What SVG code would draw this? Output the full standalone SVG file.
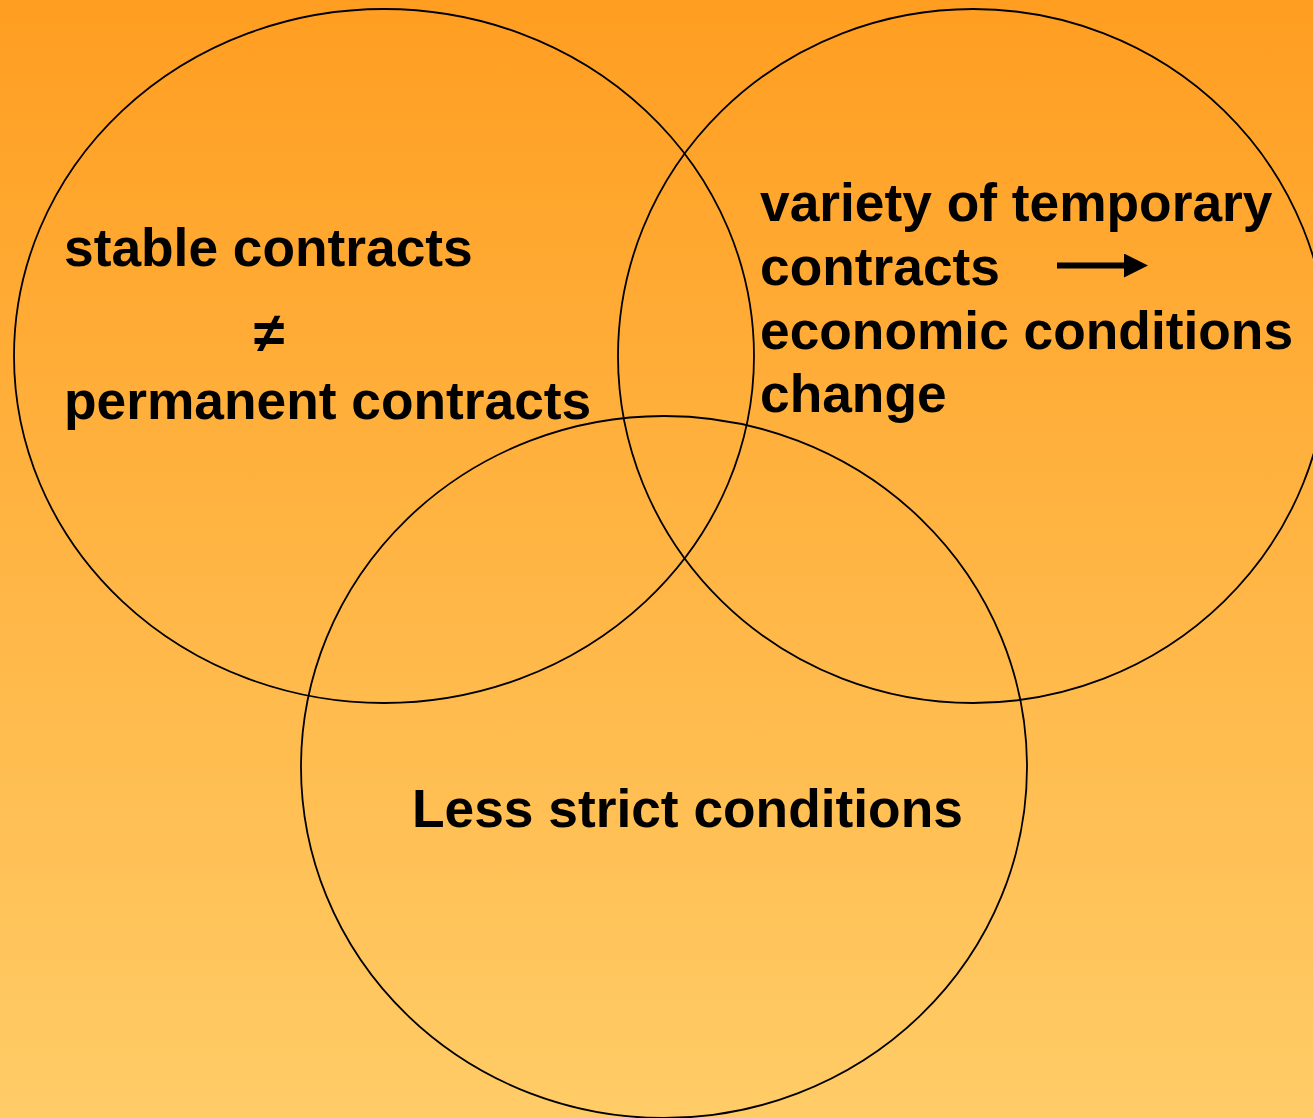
<svg xmlns="http://www.w3.org/2000/svg" width="1313" height="1118" viewBox="0 0 1313 1118">
<defs>
<linearGradient id="bg" x1="0" y1="0" x2="0" y2="1">
<stop offset="0" stop-color="#FF9E21"/>
<stop offset="1" stop-color="#FFCC67"/>
</linearGradient>
<marker id="ah" markerWidth="24" markerHeight="24" refX="0" refY="12" orient="auto" markerUnits="userSpaceOnUse">
<path d="M0,0 L24,12 L0,24 Z" fill="#000"/>
</marker>
</defs>
<style>
.c{fill:none;stroke:#000;stroke-width:1.8}
.t{font-family:"Liberation Sans",Arial,sans-serif;font-weight:bold;font-size:53.3px;fill:#000}
</style>
<rect width="1313" height="1118" fill="url(#bg)"/>
<g id="left">
<ellipse class="c" cx="384" cy="356" rx="370" ry="347"/>
<text class="t" x="64" y="266">stable contracts</text>
<text class="t" x="269" y="352" text-anchor="middle" style="font-size:56px">≠</text>
<text class="t" x="64" y="419">permanent contracts</text>
</g>
<g id="right">
<ellipse class="c" cx="973" cy="356" rx="355" ry="347"/>
<text class="t" x="760" y="221">variety of temporary</text>
<text class="t" x="760" y="285">contracts</text>
<text class="t" x="760" y="349">economic conditions</text>
<text class="t" x="760" y="412">change</text>
</g>
<g id="bottom">
<ellipse class="c" cx="664" cy="767" rx="363" ry="351"/>
<text class="t" x="412" y="827">Less strict conditions</text>
</g>
<g id="connectors">
<line x1="1057" y1="265.5" x2="1124" y2="265.5" stroke="#000" stroke-width="6" marker-end="url(#ah)"/>
</g>
</svg>
